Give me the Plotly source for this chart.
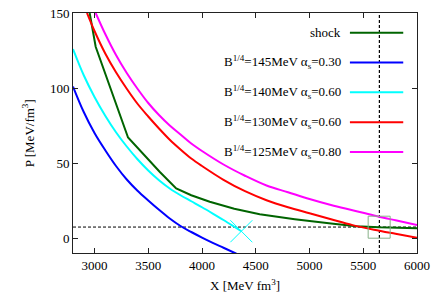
import plotly.graph_objects as go

# ---- data ----
shock_x = [2955, 3011, 3312, 3608, 3760, 3900, 4072, 4300, 4537, 4863, 5200, 5436, 5646, 6000]
shock_p = [150, 127.5, 67, 44, 33, 28.5, 24.2, 19.5, 15.8, 12.5, 9.6, 7.9, 7.1, 6.5]

b145_x = [2800, 2900, 3000, 3100, 3200, 3300, 3400, 3500, 3600, 3700, 3800, 3900, 4000, 4100, 4200, 4320]
b145_p = [101, 84, 70, 58.5, 48, 39, 31.5, 25, 18.8, 13, 8, 4, 0.3, -3.2, -6.5, -10.5]

b140_x = [2800, 2900, 3000, 3100, 3200, 3300, 3400, 3500, 3600, 3700, 3800, 3900, 4000, 4100, 4200, 4300, 4366]
b140_p = [126, 108.5, 94, 81.5, 70.5, 61, 52.5, 45, 38.5, 33, 28.5, 24.5, 20.5, 16.3, 12, 7.5, 4.5]

b130_x = [2930, 3000, 3100, 3200, 3300, 3400, 3500, 3600, 3700, 3800, 3900, 4000, 4200, 4400, 4600,
          4800, 5000, 5200, 5400, 5600, 5800, 6000]
b130_p = [150, 138, 123, 110.5, 99.5, 89.5, 81, 73, 65.5, 59, 53, 48, 38.8, 31.2, 25.2, 20.5, 16.5,
          12.5, 8.6, 5.5, 2.8, 0.2]

b125_x = [3011, 3100, 3200, 3300, 3400, 3500, 3600, 3700, 3800, 3900, 4000, 4200, 4400, 4600, 4800,
          5000, 5200, 5400, 5600, 5800, 6000]
b125_p = [150, 136, 122, 110, 99.5, 90, 82, 75, 69, 63, 58, 49, 41.5, 35, 30.5, 26, 22, 18.5, 15,
          11.8, 8.7]

cross_x = [4366]
cross_p = [4.5]
square_x = [5648]
square_p = [7.2]
p_line = 7.3
x_line = 5650

x_ticks = [3000, 3500, 4000, 4500, 5000, 5500, 6000]
y_ticks = [0, 50, 100, 150]

legend_labels = [
    "shock",
    "B<sup>1/4</sup>=145MeV α<sub>s</sub>=0.30",
    "B<sup>1/4</sup>=140MeV α<sub>s</sub>=0.60",
    "B<sup>1/4</sup>=130MeV α<sub>s</sub>=0.60",
    "B<sup>1/4</sup>=125MeV α<sub>s</sub>=0.80",
]
colors = ["#006400", "#0000ff", "#00ffff", "#ff0000", "#ff00ff"]

FONT = "Liberation Serif, Times New Roman, serif"

fig = go.Figure()

# dashed reference lines
fig.add_trace(go.Scatter(x=[2800, 6000], y=[p_line, p_line], mode="lines",
                         line=dict(color="black", width=1, dash="3px,2px"), hoverinfo="skip"))
fig.add_trace(go.Scatter(x=[x_line, x_line], y=[-10, 150], mode="lines",
                         line=dict(color="black", width=1.2, dash="3px,2px"), hoverinfo="skip"))

series = [(shock_x, shock_p, "linear"), (b145_x, b145_p, "spline"), (b140_x, b140_p, "spline"),
          (b130_x, b130_p, "spline"), (b125_x, b125_p, "spline")]
for (xs, ps, shp), c, name in zip(series, colors, legend_labels):
    fig.add_trace(go.Scatter(x=xs, y=ps, mode="lines", name=name,
                             line=dict(color=c, width=2, shape=shp), cliponaxis=True))

fig.add_trace(go.Scatter(x=cross_x, y=cross_p, mode="markers",
                         marker=dict(symbol="x-thin-open", size=22, color="#00ffff",
                                     line=dict(color="#00ffff", width=1))))
fig.add_trace(go.Scatter(x=square_x, y=square_p, mode="markers",
                         marker=dict(symbol="square-open", size=22, color="#88b088",
                                     line=dict(color="#88b088", width=1))))

# legend drawn gnuplot-style (text, then sample line)
rows_y = [0.918, 0.794, 0.670, 0.545, 0.421]
for lab, c, yy in zip(legend_labels, colors, rows_y):
    fig.add_annotation(x=0.784, y=yy, xref="paper", yref="paper", text=lab, showarrow=False,
                       xanchor="right", yanchor="middle", font=dict(family=FONT, size=13, color="black"))
    fig.add_shape(type="line", xref="paper", yref="paper", x0=0.805, x1=0.960, y0=yy, y1=yy,
                  line=dict(color=c, width=2))

# axis titles
fig.add_annotation(x=0.5, y=-0.135, xref="paper", yref="paper", text="X [MeV fm<sup>3</sup>]",
                   showarrow=False, xanchor="center", yanchor="middle",
                   font=dict(family=FONT, size=13, color="black"))
fig.add_annotation(x=-0.13, y=0.5, xref="paper", yref="paper", text="P [MeV/fm<sup>3</sup>]",
                   showarrow=False, xanchor="center", yanchor="middle", textangle=-90,
                   font=dict(family=FONT, size=13, color="black"))

axis_common = dict(showline=True, linecolor="#222", linewidth=1, mirror="allticks", ticks="inside",
                   ticklen=5, tickcolor="#222", showgrid=False, zeroline=False, automargin=False,
                   tickfont=dict(family=FONT, size=13, color="black"))

fig.update_layout(
    width=436, height=304, margin=dict(l=73, r=19, t=13, b=51, autoexpand=False),
    paper_bgcolor="white", plot_bgcolor="white", showlegend=False,
    font=dict(family=FONT, size=13, color="black"),
    xaxis=dict(range=[2800, 6000], tickvals=x_ticks, ticktext=[str(v) for v in x_ticks], **axis_common),
    yaxis=dict(range=[-10, 150], tickvals=y_ticks, ticktext=[str(v) for v in y_ticks], **axis_common),
)

fig.write_html("out.html", config={"displayModeBar": False},
               post_script="document.body.style.margin='0';")
